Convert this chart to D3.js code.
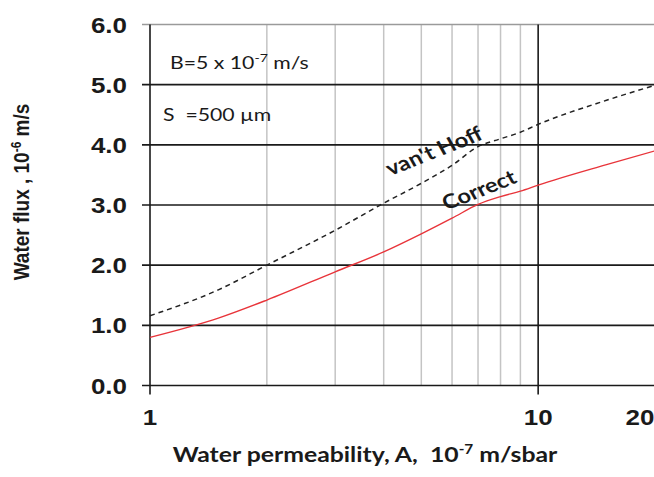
<!DOCTYPE html>
<html><head><meta charset="utf-8">
<script src="https://cdn.jsdelivr.net/npm/d3@7"></script>
<style>html,body{margin:0;padding:0;background:#fff;}svg{display:block;}</style>
</head><body>
<script>
// ---- data ----
const permeability = [1, 1.5, 2, 3, 4, 5, 6, 7, 8, 9, 10, 15, 20];
const vantHoff     = [1.16, 1.59, 2.00, 2.58, 3.03, 3.36, 3.66, 3.97, 4.10, 4.21, 4.34, 4.74, 4.99];
const correct      = [0.80, 1.12, 1.42, 1.89, 2.22, 2.52, 2.78, 3.01, 3.14, 3.23, 3.33, 3.67, 3.90];
const yTicks = [0, 1, 2, 3, 4, 5, 6];
const xMinor = [2, 3, 4, 5, 6, 7, 8, 9];
const xMajor = [1, 10];
const xTickLabels = [1, 10, 20];

const W = 654, H = 477;
const SX = 1.18; // horizontal stretch of the original figure
const svg = d3.select("body").append("svg").attr("width", W).attr("height", H);
svg.append("rect").attr("width", W).attr("height", H).attr("fill", "#fff");

const x = d3.scaleLog().domain([1, 20]).range([150, 655]);
const y = d3.scaleLinear().domain([0, 6]).range([385.5, 24.5]);

const arial = "'Liberation Sans', Arial, sans-serif";
const calibri = "Lato, 'Open Sans', sans-serif";

// minor vertical grid
svg.append("g").selectAll("line").data(xMinor).join("line")
  .attr("x1", d => x(d)).attr("x2", d => x(d))
  .attr("y1", y(6)).attr("y2", y(0))
  .attr("stroke", "#c4c4c4").attr("stroke-width", 1.5);

// horizontal grid + ticks
svg.append("g").selectAll("line").data(yTicks).join("line")
  .attr("x1", x(1) - 8).attr("x2", W)
  .attr("y1", d => y(d)).attr("y2", d => y(d))
  .attr("stroke", d => d === 6 ? "#9a9a9a" : "#1a1a1a").attr("stroke-width", 1.6);

// major verticals
svg.append("g").selectAll("line").data(xMajor).join("line")
  .attr("x1", d => x(d)).attr("x2", d => x(d))
  .attr("y1", y(6)).attr("y2", y(0) + 9)
  .attr("stroke", "#1a1a1a").attr("stroke-width", 1.6);

// y tick labels
svg.append("g").selectAll("text").data(yTicks).join("text")
  .attr("transform", d => `translate(127,${y(d) + 8}) scale(${SX},1)`)
  .attr("text-anchor", "end")
  .attr("font-family", arial).attr("font-weight", "bold").attr("font-size", 22)
  .attr("fill", "#1a1a1a")
  .text(d3.format(".1f"));

// x tick labels
svg.append("g").selectAll("text").data(xTickLabels).join("text")
  .attr("transform", (d, i) => `translate(${i === 2 ? x(d) - 15 : x(d)},425) scale(${SX},1)`)
  .attr("text-anchor", "middle")
  .attr("font-family", arial).attr("font-weight", "bold").attr("font-size", 22)
  .attr("fill", "#1a1a1a")
  .text(d => d);

// lines
const line = d3.line().x(d => x(d[0])).y(d => y(d[1])).curve(d3.curveMonotoneX);
svg.append("path").datum(permeability.map((a, i) => [a, vantHoff[i]]))
  .attr("d", line).attr("fill", "none").attr("stroke", "#222")
  .attr("stroke-width", 1.5).attr("stroke-dasharray", "5,4");
svg.append("path").datum(permeability.map((a, i) => [a, correct[i]]))
  .attr("d", line).attr("fill", "none").attr("stroke", "#e8343a")
  .attr("stroke-width", 1.4);

// curve labels (rotation before the horizontal stretch)
const ang = -Math.atan(Math.tan(29 * Math.PI / 180) / SX) * 180 / Math.PI;
svg.append("text").attr("transform", `translate(434,151) scale(${SX},1) rotate(${ang})`)
  .attr("text-anchor", "middle").attr("dy", "0.35em")
  .attr("font-family", calibri).attr("font-weight", "bold").attr("font-size", 20)
  .attr("fill", "#1a1a1a").text("van't Hoff");
svg.append("text").attr("transform", `translate(479,190) scale(${SX},1) rotate(${ang})`)
  .attr("text-anchor", "middle").attr("dy", "0.35em")
  .attr("font-family", calibri).attr("font-weight", "bold").attr("font-size", 20)
  .attr("fill", "#1a1a1a").text("Correct");

// annotations
const t1 = svg.append("text").attr("transform", `translate(170,68.5) scale(${SX},1)`)
  .attr("font-family", calibri).attr("font-size", 18).attr("fill", "#1a1a1a");
t1.append("tspan").text("B=5 x 10");
t1.append("tspan").attr("dy", -7).attr("font-size", 12).text("-7");
t1.append("tspan").attr("dy", 7).text(" m/s");

svg.append("text").attr("transform", `translate(163,120.5) scale(${SX},1)`)
  .attr("font-family", calibri).attr("font-size", 18).attr("fill", "#1a1a1a")
  .attr("xml:space", "preserve").text("S  =500 \u00b5m");

// y axis title
const yt = svg.append("text").attr("transform", `translate(29,192) scale(${SX},1) rotate(-90)`)
  .attr("text-anchor", "middle")
  .attr("font-family", arial).attr("font-weight", "bold").attr("font-size", 19)
  .attr("fill", "#1a1a1a");
yt.append("tspan").text("Water flux , 10");
yt.append("tspan").attr("dy", -7).attr("font-size", 12).text("-6");
yt.append("tspan").attr("dy", 7).text(" m/s");

// x axis title
const xt = svg.append("text").attr("transform", `translate(365,462) scale(${SX},1)`)
  .attr("text-anchor", "middle")
  .attr("font-family", calibri).attr("font-weight", "bold").attr("font-size", 21)
  .attr("fill", "#1a1a1a").attr("xml:space", "preserve");
xt.append("tspan").text("Water permeability, A,  10");
xt.append("tspan").attr("dy", -8).attr("font-size", 13).text("-7");
xt.append("tspan").attr("dy", 8).text(" m/sbar");
</script>
</body></html>
